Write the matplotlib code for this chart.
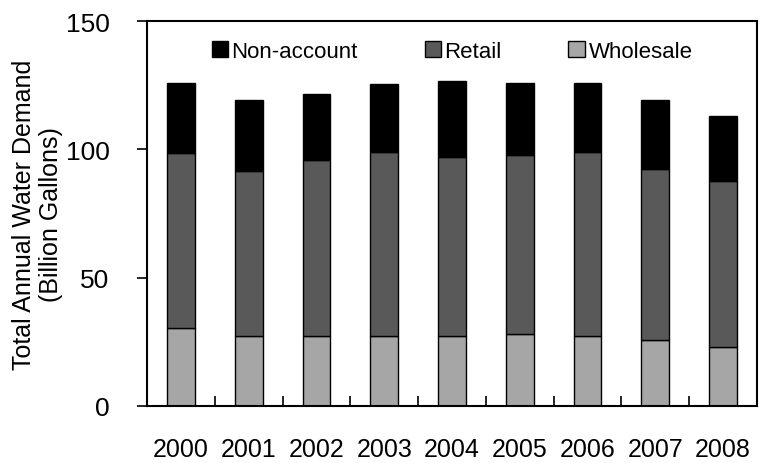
import matplotlib
matplotlib.use("Agg")
import matplotlib.pyplot as plt
import numpy as np

years = ["2000","2001","2002","2003","2004","2005","2006","2007","2008"]
wholesale = [30.4, 27.4, 27.1, 27.1, 27.1, 27.9, 27.3, 25.7, 22.8]
retail_top = [98.7, 91.6, 95.7, 98.8, 97.0, 97.6, 98.8, 92.4, 87.7]
total = [125.7, 119.3, 121.5, 125.4, 126.6, 126.0, 125.9, 119.3, 112.8]
retail = [r - w for r, w in zip(retail_top, wholesale)]
nonacc = [t - r for t, r in zip(total, retail_top)]

plt.rcParams['font.family'] = ['Liberation Sans', 'DejaVu Sans']
fig = plt.figure(figsize=(7.82, 4.64), dpi=100)
ax = fig.add_axes([147/782, 57/464, 610/782, 385/464])
x = np.arange(len(years))
w = 0.41
kw = dict(width=w, edgecolor='black', linewidth=1)
ax.bar(x, wholesale, color='#a6a6a6', label='Wholesale', **kw)
ax.bar(x, retail, bottom=wholesale, color='#595959', label='Retail', **kw)
ax.bar(x, nonacc, bottom=retail_top, color='black', label='Non-account', **kw)
ax.set_xlim(-0.5, len(years) - 0.5)
ax.set_ylim(0, 150)
ax.set_yticks([0, 50, 100, 150])
ax.set_xticks(x)
ax.set_xticklabels(years)
ax.set_xticks(np.arange(0.5, len(years) - 0.5), minor=True)
ax.tick_params(axis='x', which='major', length=0, pad=22, labelsize=18)
ax.tick_params(axis='x', which='minor', direction='in', length=7, width=1.2)
ax.tick_params(axis='y', direction='out', length=7, width=1.2, labelsize=19, pad=20)
for s in ax.spines.values():
    s.set_linewidth(1.5)
ax.set_ylabel("Total Annual Water Demand\n(Billion Gallons)", fontsize=18, labelpad=2, linespacing=1.15)
h, l = ax.get_legend_handles_labels()
ax.legend(h[::-1], l[::-1], loc='upper center', ncol=3, frameon=False, fontsize=16,
          handlelength=0.75, handleheight=0.75, handletextpad=0.15, columnspacing=3.0,
          bbox_to_anchor=(0.5, 1.0))
fig.savefig("out.png", dpi=100)
